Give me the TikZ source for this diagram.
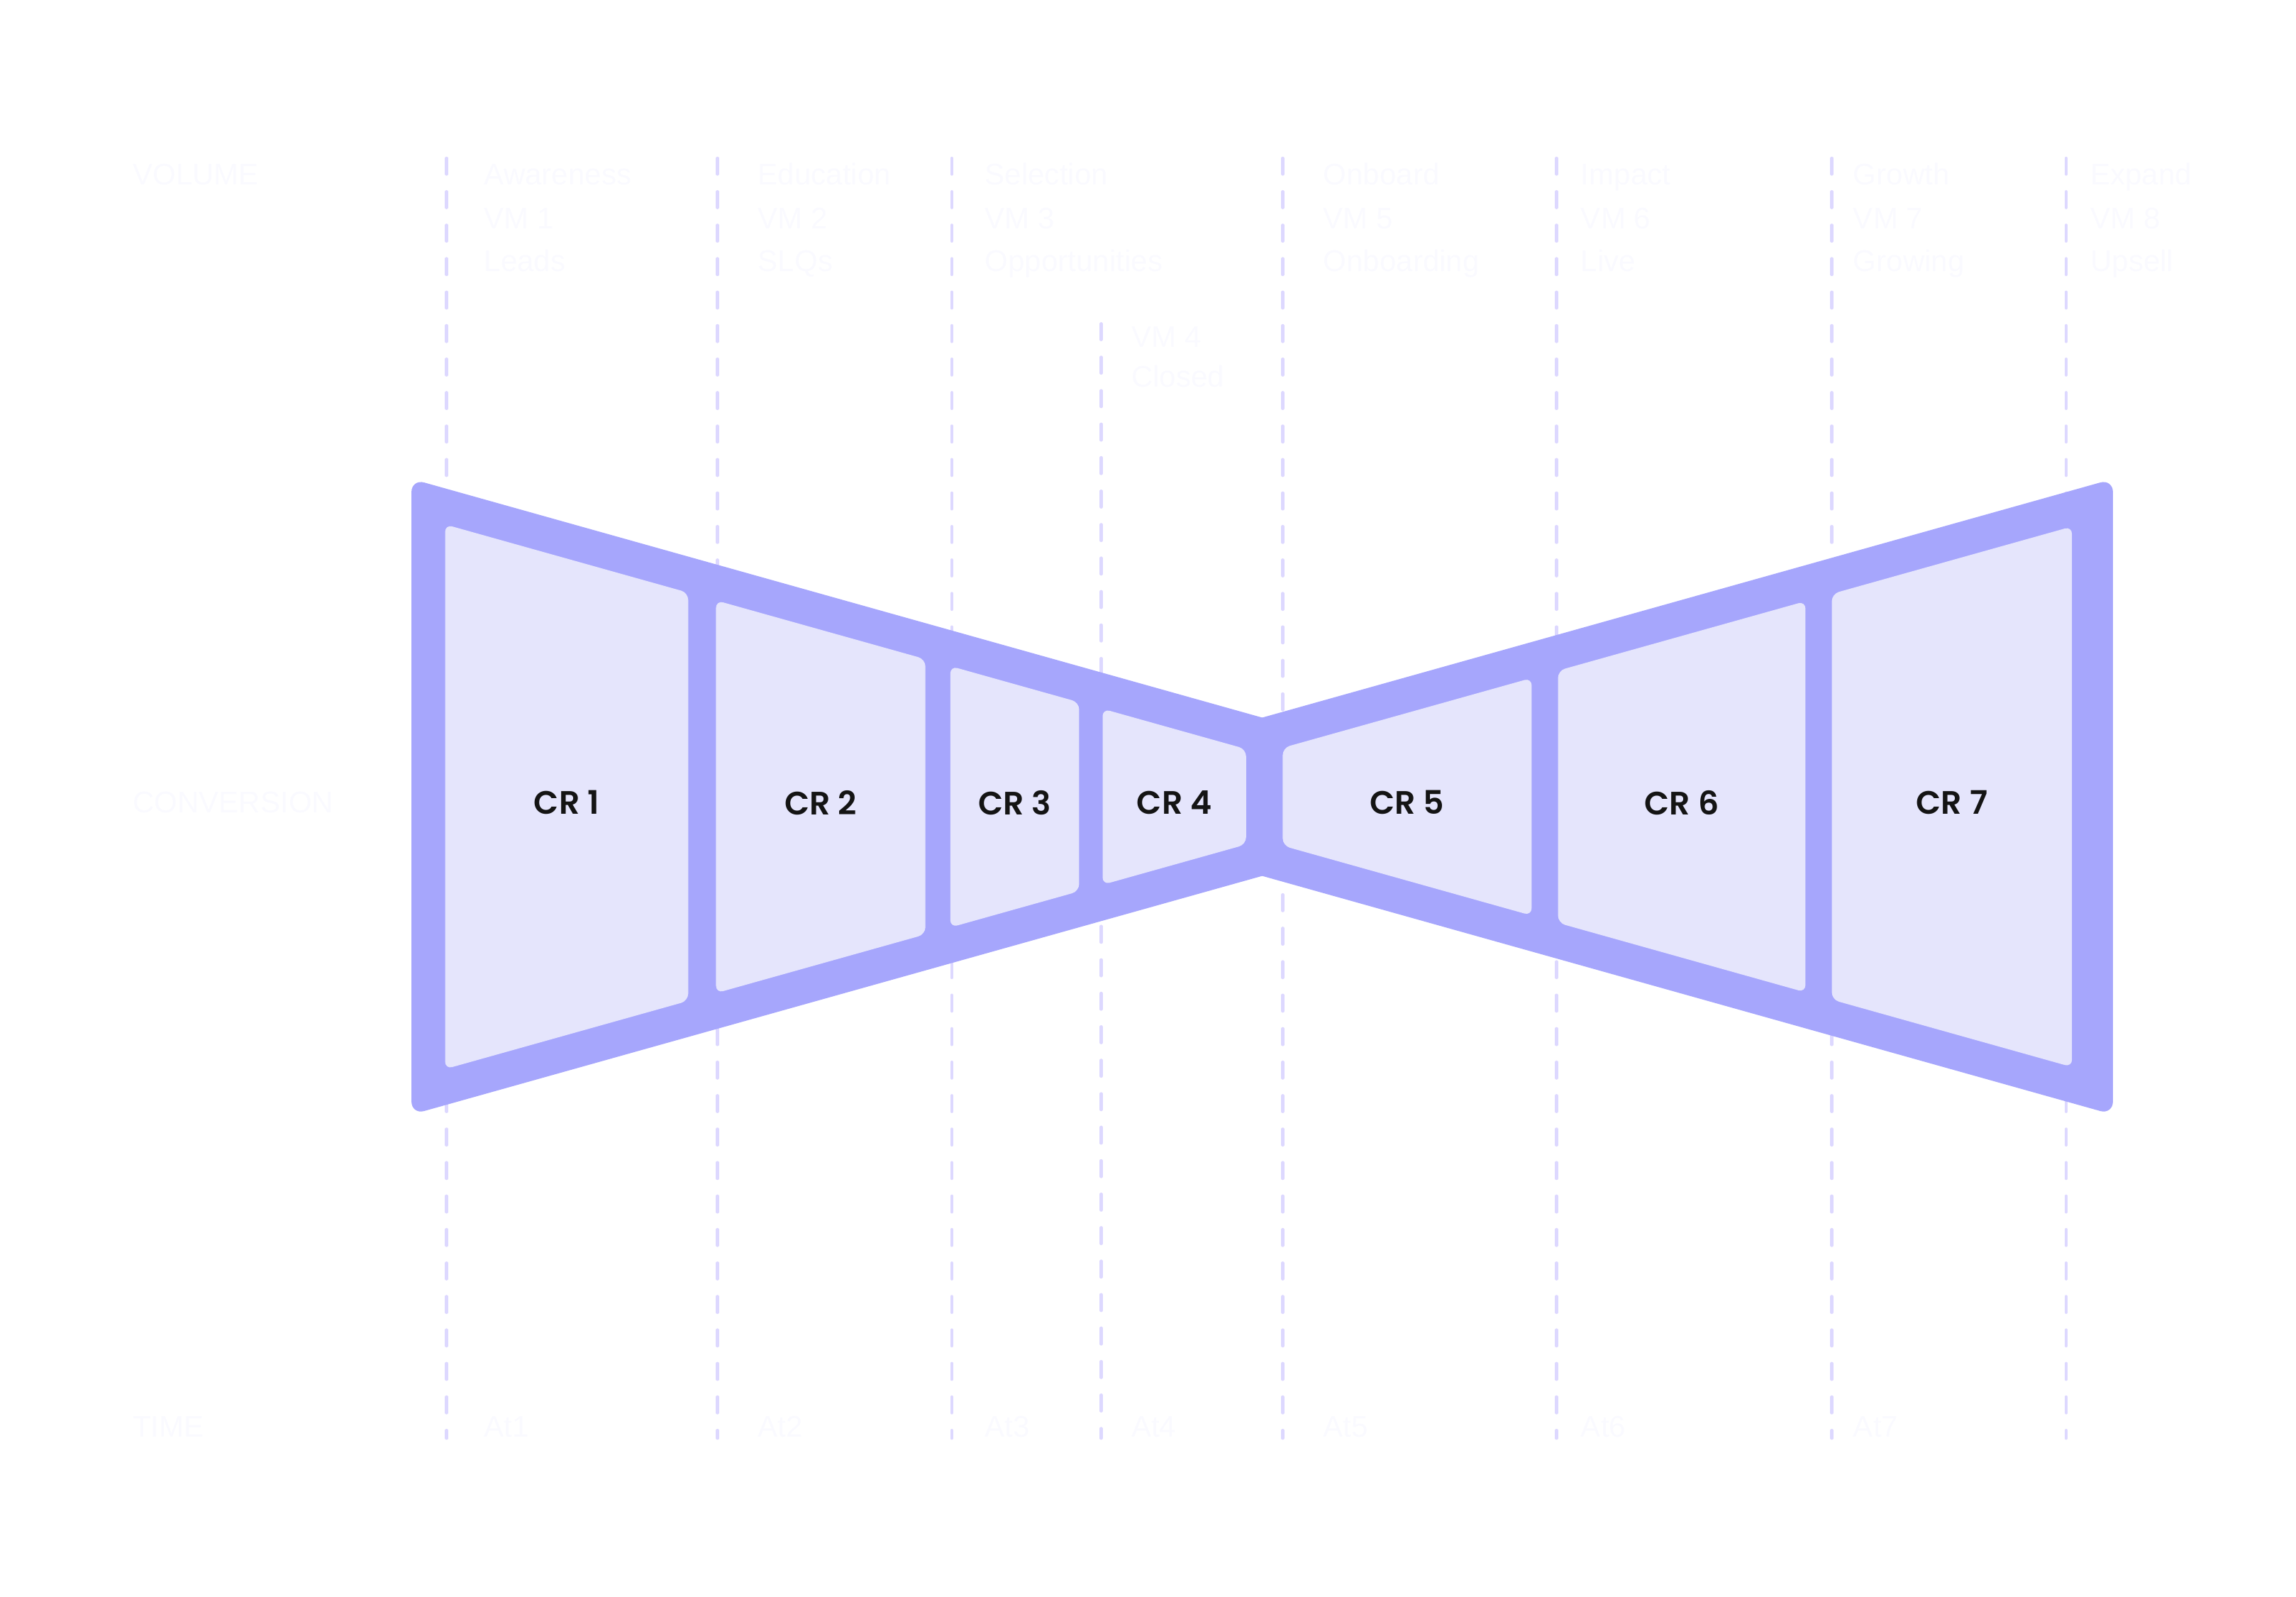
\documentclass[tikz,border=0pt]{standalone}
\usepackage{fontspec}
\setmainfont{Liberation Sans}
\newfontfamily\crfont{Poppins SemiBold}
\usetikzlibrary{positioning}
\definecolor{bowout}{HTML}{A6A6FC}
\definecolor{bowin}{HTML}{E5E5FC}
\definecolor{guideline}{HTML}{DDD8FF}
\definecolor{ghost}{HTML}{FAFAFF}
\tikzset{
    guide/.style={guideline, line width=0.6pt, line cap=round, dash pattern=on 3.1pt off 3.4pt},
    ghosttext/.style={text=ghost, font=\fontsize{5.8}{7}\selectfont, inner sep=0pt, anchor=base west},
    crlabel/.style={text=black!92, font=\crfont\fontsize{6.3}{7}\selectfont, inner sep=0pt},
    panel/.style={fill=bowin, rounded corners=0.5mm},
    half/.style={fill=bowout, rounded corners=0.9mm},
}

\begin{document}
\begin{tikzpicture}[x=0.01cm, y=-0.01cm]
    \useasboundingbox (0,0) rectangle (1568,1090);

    \foreach \gx/\gy [count=\i] in {305/108, 490/108, 650/108, 752/221, 876/108, 1063/108, 1251/108, 1411/108}{
        \coordinate (g\i top) at (\gx,\gy);
        \coordinate (g\i bot) at (\gx,982);
        \draw[guide] (g\i top) -- (g\i bot);
    }

    \fill[half] (880,495) -- (281,327) -- (281,761) -- (880,593) -- cycle;
    \fill[half] (844,495) -- (1443,327) -- (1443,761) -- (844,593) -- cycle;

    \foreach \xl/\xr [count=\n] in {304/470, 489/632, 649/737, 753/851, 876/1046, 1064/1233, 1251/1415}{
        \pgfmathsetmacro\hl{29.5+0.2803*abs(\xl-862)}
        \pgfmathsetmacro\hr{29.5+0.2803*abs(\xr-862)}
        \fill[panel] (\xl,544-\hl) -- (\xr,544-\hr) -- (\xr,544+\hr) -- (\xl,544+\hl) -- cycle;
        \node[crlabel] (cr\n) at ({(\xl+\xr)/2},548) {CR \n};
    }

    \node[ghosttext] (vol) at (90,126) {VOLUME};
    \node[ghosttext] (conv) at (90,555) {CONVERSION};
    \node[ghosttext] (time) at (90,981) {TIME};

    \foreach \sx/\stage/\vm/\res [count=\i] in {330/Awareness/VM 1/Leads, 517/Education/VM 2/SLQs, 672/Selection/VM 3/Opportunities, 903/Onboard/VM 5/Onboarding, 1079/Impact/VM 6/Live, 1265/Growth/VM 7/Growing, 1427/Expand/VM 8/Upsell}{
        \node[ghosttext] (st\i) at (\sx,126) {\stage};
        \node[ghosttext, below=0.3cm of st\i.base west, anchor=base west] (vm\i) {\vm};
        \node[ghosttext, below=0.29cm of vm\i.base west, anchor=base west] (res\i) {\res};
    }
    \node[ghosttext] (vm4) at (772,237) {VM 4};
    \node[ghosttext, below=0.27cm of vm4.base west, anchor=base west] (res4) {Closed};

    \foreach \tx [count=\i] in {330, 517, 672, 772, 903, 1079, 1265}{
        \node[ghosttext] (at\i) at (\tx,981) {At\i};
    }
\end{tikzpicture}
\end{document}
